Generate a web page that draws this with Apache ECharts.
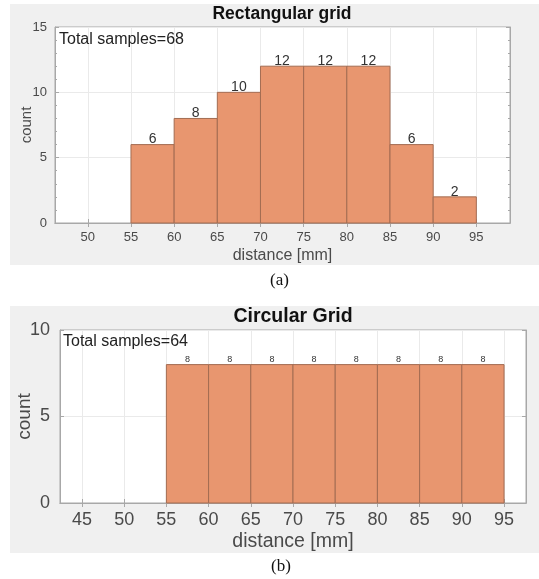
<!DOCTYPE html>
<html>
<head>
<meta charset="utf-8">
<script src="https://cdn.jsdelivr.net/npm/echarts@6/dist/echarts.min.js"></script>
<style>
html,body{margin:0;padding:0;background:#fff;}
#c{width:539px;height:579px;}
</style>
</head>
<body>
<div id="c"></div>
<script>
// ---- data ----
const binStartA = [55, 60, 65, 70, 75, 80, 85, 90];
const binEndA   = [60, 65, 70, 75, 80, 85, 90, 95];
const countsA   = [6, 8, 10, 12, 12, 12, 6, 2];
const xTicksA   = [50, 55, 60, 65, 70, 75, 80, 85, 90, 95];

const binStartB = [55, 60, 65, 70, 75, 80, 85, 90];
const binEndB   = [60, 65, 70, 75, 80, 85, 90, 95];
const countsB   = [8, 8, 8, 8, 8, 8, 8, 8];
const xTicksB   = [45, 50, 55, 60, 65, 70, 75, 80, 85, 90, 95];

const titleA = 'Rectangular grid';
const titleB = 'Circular Grid';
const totalA = 'Total samples=68';
const totalB = 'Total samples=64';

const FONT = '"Liberation Sans", Arial, Helvetica, sans-serif';
const BAR_FILL = '#E8966F';
const BAR_EDGE = '#A36C52';
const AXIS_COLOR = '#A8A8A8';
const GRID_COLOR = '#EAEAEA';
const LABEL_COLOR = '#4a4a4a';

function mkData(s, e, c) { return s.map((v, i) => [v, e[i], c[i]]); }

function renderer(fontSize, dy) {
  return function (params, api) {
    const p0 = api.coord([api.value(0), api.value(2)]);
    const p1 = api.coord([api.value(1), 0]);
    return {
      type: 'group',
      children: [
        { type: 'rect',
          shape: { x: p0[0], y: p0[1], width: p1[0] - p0[0], height: p1[1] - p0[1] },
          style: { fill: BAR_FILL, stroke: BAR_EDGE, lineWidth: 1 } },
        { type: 'text',
          style: { text: String(api.value(2)), x: (p0[0] + p1[0]) / 2, y: p0[1] + dy,
                   align: 'center', verticalAlign: 'bottom',
                   font: fontSize + 'px ' + FONT, fill: '#333' } }
      ]
    };
  };
}

function xAxisCfg(idx, min, max, ticks, fs, name, nameGap, nameFs) {
  return {
    type: 'value', gridIndex: idx, min: min, max: max,
    axisLine: { show: true, lineStyle: { color: AXIS_COLOR } },
    axisTick: { show: true, inside: true, length: 4, customValues: ticks, lineStyle: { color: AXIS_COLOR } },
    axisLabel: { customValues: ticks, fontFamily: FONT, fontSize: fs, color: LABEL_COLOR, margin: 8 },
    splitLine: { show: true, lineStyle: { color: GRID_COLOR } },
    name: name, nameLocation: 'middle', nameGap: nameGap, nameMoveOverlap: false,
    nameTextStyle: { fontFamily: FONT, fontSize: nameFs, color: LABEL_COLOR }
  };
}

function xMirror(idx, min, max, ticks) {
  return {
    type: 'value', gridIndex: idx, min: min, max: max, position: 'top',
    axisLine: { show: true, lineStyle: { color: AXIS_COLOR } },
    axisTick: { show: true, inside: true, length: 4, customValues: ticks, lineStyle: { color: AXIS_COLOR } },
    axisLabel: { show: false }, splitLine: { show: false }
  };
}

function yMirror(idx, max, minor) {
  return {
    type: 'value', gridIndex: idx, min: 0, max: max, interval: 5, position: 'right',
    axisLine: { show: true, lineStyle: { color: AXIS_COLOR } },
    axisTick: { show: true, inside: true, length: 4, lineStyle: { color: AXIS_COLOR } },
    minorTick: { show: minor, splitNumber: 5, length: 2, lineStyle: { color: AXIS_COLOR } },
    axisLabel: { show: false }, splitLine: { show: false }
  };
}

const option = {
  animation: false,
  backgroundColor: '#ffffff',
  graphic: [
    { type: 'rect', z: -10, shape: { x: 10, y: 4, width: 529, height: 261 }, style: { fill: '#F0F0F0' } },
    { type: 'rect', z: -10, shape: { x: 10, y: 306, width: 529, height: 247 }, style: { fill: '#F0F0F0' } },
    { type: 'text', left: 270, top: 272, style: { text: '(a)', font: '17px "Liberation Serif", "Times New Roman", serif', fill: '#111' } },
    { type: 'text', left: 271, top: 558, style: { text: '(b)', font: '17px "Liberation Serif", "Times New Roman", serif', fill: '#111' } },
    { type: 'text', left: 59, top: 32, z: 100, style: { text: totalA, font: '16px ' + FONT, fill: '#222' } },
    { type: 'text', left: 63, top: 334, z: 100, style: { text: totalB, font: '16px ' + FONT, fill: '#222' } },
    { type: 'text', x: 282, y: 14, z: 100, style: { text: titleA, align: 'center', verticalAlign: 'middle', font: 'bold 17.5px ' + FONT, fill: '#111' } },
    { type: 'text', x: 293, y: 317, z: 100, style: { text: titleB, align: 'center', verticalAlign: 'middle', font: 'bold 19.5px ' + FONT, fill: '#111' } }
  ],
  grid: [
    { left: 55, top: 27, width: 455, height: 196, show: true, backgroundColor: '#fff', borderColor: AXIS_COLOR, borderWidth: 1 },
    { left: 60, top: 330, width: 466, height: 173, show: true, backgroundColor: '#fff', borderColor: AXIS_COLOR, borderWidth: 1 }
  ],
  xAxis: [
    xAxisCfg(0, 46.2, 98.9, xTicksA, 13, 'distance [mm]', 25, 16),
    xAxisCfg(1, 42.4, 97.6, xTicksB, 18, 'distance [mm]', 29, 19.5),
    xMirror(0, 46.2, 98.9, xTicksA),
    xMirror(1, 42.4, 97.6, xTicksB)
  ],
  yAxis: [
    { type: 'value', gridIndex: 0, min: 0, max: 15, interval: 5,
      axisLine: { show: true, lineStyle: { color: AXIS_COLOR } },
      axisTick: { show: true, inside: true, length: 4, lineStyle: { color: AXIS_COLOR } },
      minorTick: { show: true, splitNumber: 5, length: 2, lineStyle: { color: AXIS_COLOR } },
      axisLabel: { fontFamily: FONT, fontSize: 13, color: LABEL_COLOR, margin: 8 },
      splitLine: { show: true, lineStyle: { color: GRID_COLOR } },
      name: 'count', nameLocation: 'middle', nameGap: 21, nameMoveOverlap: false,
      nameTextStyle: { fontFamily: FONT, fontSize: 15, color: LABEL_COLOR } },
    { type: 'value', gridIndex: 1, min: 0, max: 10, interval: 5,
      axisLine: { show: true, lineStyle: { color: AXIS_COLOR } },
      axisTick: { show: true, inside: true, length: 4, lineStyle: { color: AXIS_COLOR } },
      axisLabel: { fontFamily: FONT, fontSize: 18, color: LABEL_COLOR, margin: 10 },
      splitLine: { show: true, lineStyle: { color: GRID_COLOR } },
      name: 'count', nameLocation: 'middle', nameGap: 26, nameMoveOverlap: false,
      nameTextStyle: { fontFamily: FONT, fontSize: 19, color: LABEL_COLOR } },
    yMirror(0, 15, true),
    yMirror(1, 10, false)
  ],
  series: [
    { type: 'custom', xAxisIndex: 0, yAxisIndex: 0, renderItem: renderer(14, 2),
      encode: { x: [0, 1], y: 2 }, data: mkData(binStartA, binEndA, countsA) },
    { type: 'custom', xAxisIndex: 1, yAxisIndex: 1, renderItem: renderer(9, -1),
      encode: { x: [0, 1], y: 2 }, data: mkData(binStartB, binEndB, countsB) }
  ]
};

const chart = echarts.init(document.getElementById('c'), null, { renderer: 'canvas' });
chart.setOption(option);
</script>
</body>
</html>
